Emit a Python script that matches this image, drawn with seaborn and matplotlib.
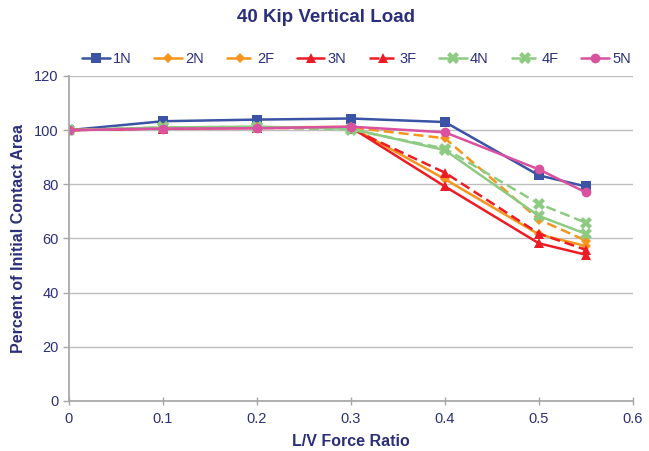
import matplotlib
matplotlib.use("Agg")
import matplotlib.pyplot as plt
import seaborn as sns
import pandas as pd

sns.set_theme(style="white")
plt.rcParams["font.family"] = ["Liberation Sans", "DejaVu Sans"]

ratios = [0.0, 0.1, 0.2, 0.3, 0.4, 0.5, 0.55]
series_names = ["1N", "2N", "2F", "3N", "3F", "4N", "4F", "5N"]
s_1N = [100, 103.3, 103.9, 104.3, 103.0, 83.3, 79.2]
s_2N = [100, 100.8, 101.0, 101.2, 81.9, 61.5, 57.2]
s_2F = [100, 100.8, 101.0, 101.0, 97.0, 67.0, 59.2]
s_3N = [100, 100.6, 100.8, 101.0, 79.2, 58.2, 54.0]
s_3F = [100, 100.7, 100.9, 100.6, 84.3, 61.8, 55.8]
s_4N = [100, 101.0, 101.3, 100.5, 92.6, 68.3, 61.7]
s_4F = [100, 101.0, 101.2, 100.2, 93.2, 72.8, 65.8]
s_5N = [100, 100.6, 100.7, 101.3, 99.2, 85.5, 77.0]
values = [s_1N, s_2N, s_2F, s_3N, s_3F, s_4N, s_4F, s_5N]

colors = {"1N": "#3A53A4", "2N": "#F7941D", "2F": "#F7941D", "3N": "#ED1C24",
          "3F": "#ED1C24", "4N": "#8DCB83", "4F": "#8DCB83", "5N": "#D9519F"}
markers = {"1N": "s", "2N": "D", "2F": "D", "3N": "^", "3F": "^",
           "4N": "X", "4F": "X", "5N": "o"}
msizes = {"1N": 7, "2N": 5, "2F": 5, "3N": 7.5, "3F": 7.5, "4N": 8, "4F": 8, "5N": 7}

df = pd.DataFrame({
    "ratio": [r for _ in series_names for r in ratios],
    "pct": [v for vals in values for v in vals],
    "series": [n for n in series_names for _ in ratios],
})

navy = "#2B2F7A"
fig = plt.figure(figsize=(6.49, 4.51), dpi=100)
ax = fig.add_axes([0.1063, 0.1109, 0.869, 0.7206])

for name in series_names:
    sub = df[df["series"] == name]
    sns.lineplot(data=sub, x="ratio", y="pct", ax=ax, color=colors[name],
                 linewidth=1.8, marker=markers[name], markersize=msizes[name],
                 markeredgewidth=0, label=name,
                 linestyle="--" if name.endswith("F") else "-")

for line in ax.get_lines():
    if line.get_linestyle() == "--":
        line.set_dashes((4, 2))

ax.set_xlim(0, 0.6)
ax.set_ylim(0, 120)
ax.set_xticks([0, 0.1, 0.2, 0.3, 0.4, 0.5, 0.6])
ax.set_xticklabels(["0", "0.1", "0.2", "0.3", "0.4", "0.5", "0.6"])
ax.set_yticks(range(0, 121, 20))
ax.yaxis.grid(True, color="#BEBEBE", linewidth=1)
ax.xaxis.grid(False)
ax.set_axisbelow(True)
for side in ["top", "right"]:
    ax.spines[side].set_visible(False)
for side in ["left", "bottom"]:
    ax.spines[side].set_color("#A6A6A6")
ax.tick_params(axis="both", colors="#A6A6A6", labelcolor=navy, labelsize=10.5,
               length=4, width=1, direction="out", left=True, bottom=True)
ax.tick_params(axis="x", direction="inout", length=6, pad=5)

ax.set_xlabel("L/V Force Ratio", fontsize=11.5, fontweight="bold", color=navy, labelpad=6)
ax.set_ylabel("Percent of Initial Contact Area", fontsize=11.5, fontweight="bold",
              color=navy, labelpad=6)
fig.suptitle("40 Kip Vertical Load", x=0.503, y=0.98, fontsize=13.5,
             fontweight="bold", color=navy)

handles, labels = ax.get_legend_handles_labels()
leg = ax.legend(handles, labels, ncol=8, loc="lower center",
                bbox_to_anchor=(0.51, 1.005), frameon=False, fontsize=10.5,
                handlelength=1.9, handletextpad=0.2, columnspacing=1.55,
                borderaxespad=0.2)
for t in leg.get_texts():
    t.set_color(navy)

fig.savefig("out.png", dpi=100)
